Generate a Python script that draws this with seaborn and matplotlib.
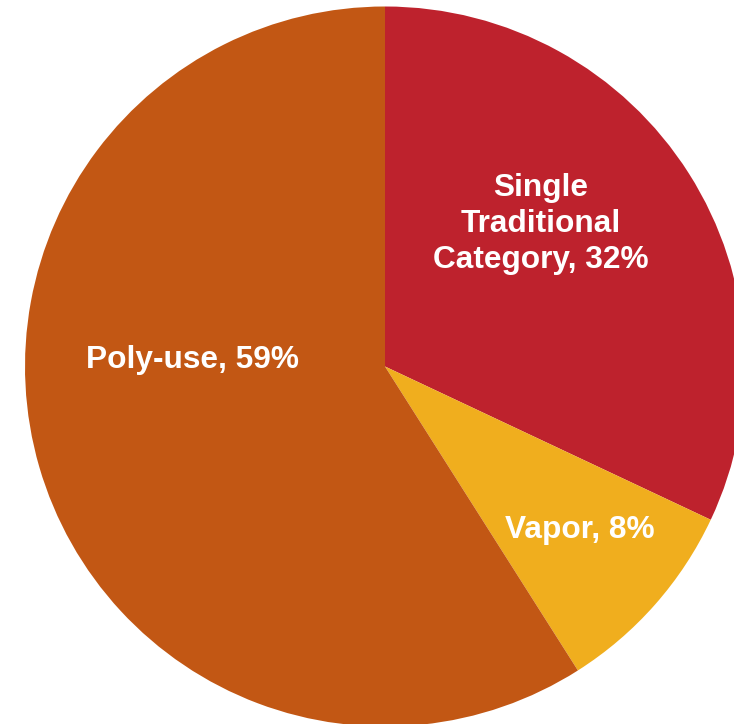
import matplotlib
matplotlib.use("Agg")
import matplotlib.pyplot as plt
import seaborn as sns

categories = ["Single\nTraditional\nCategory", "Vapor", "Poly-use"]
shares = [32.0, 9.0, 59.0]          # slice sizes
label_pcts = [32, 8, 59]            # percentages printed on the chart
colors = ["#BE222D", "#F0AE1E", "#C25714"]

sns.set_theme(style="white")
plt.rcParams['font.family'] = ['Liberation Sans', 'DejaVu Sans']

W, H = 734, 724
fig = plt.figure(figsize=(W / 100, H / 100), dpi=100)
ax = fig.add_axes([0, 0, 1, 1])

cx, cy, r = 385, H - 366.5, 360
ax.pie(shares, colors=colors, startangle=90, counterclock=False,
       center=(cx, cy), radius=r, frame=True,
       wedgeprops=dict(linewidth=0))
ax.set_xlim(0, W)
ax.set_ylim(0, H)
ax.set_aspect("equal")
ax.axis("off")

label_pos = [(541, H - 224), (580, H - 530), (193, H - 360)]
for cat, pct, (x, y) in zip(categories, label_pcts, label_pos):
    ax.text(x, y, f"{cat}, {pct}%", ha="center", va="center",
            fontsize=22.8, fontweight="bold", color="white", linespacing=1.27)

fig.savefig("out.png", dpi=100)
